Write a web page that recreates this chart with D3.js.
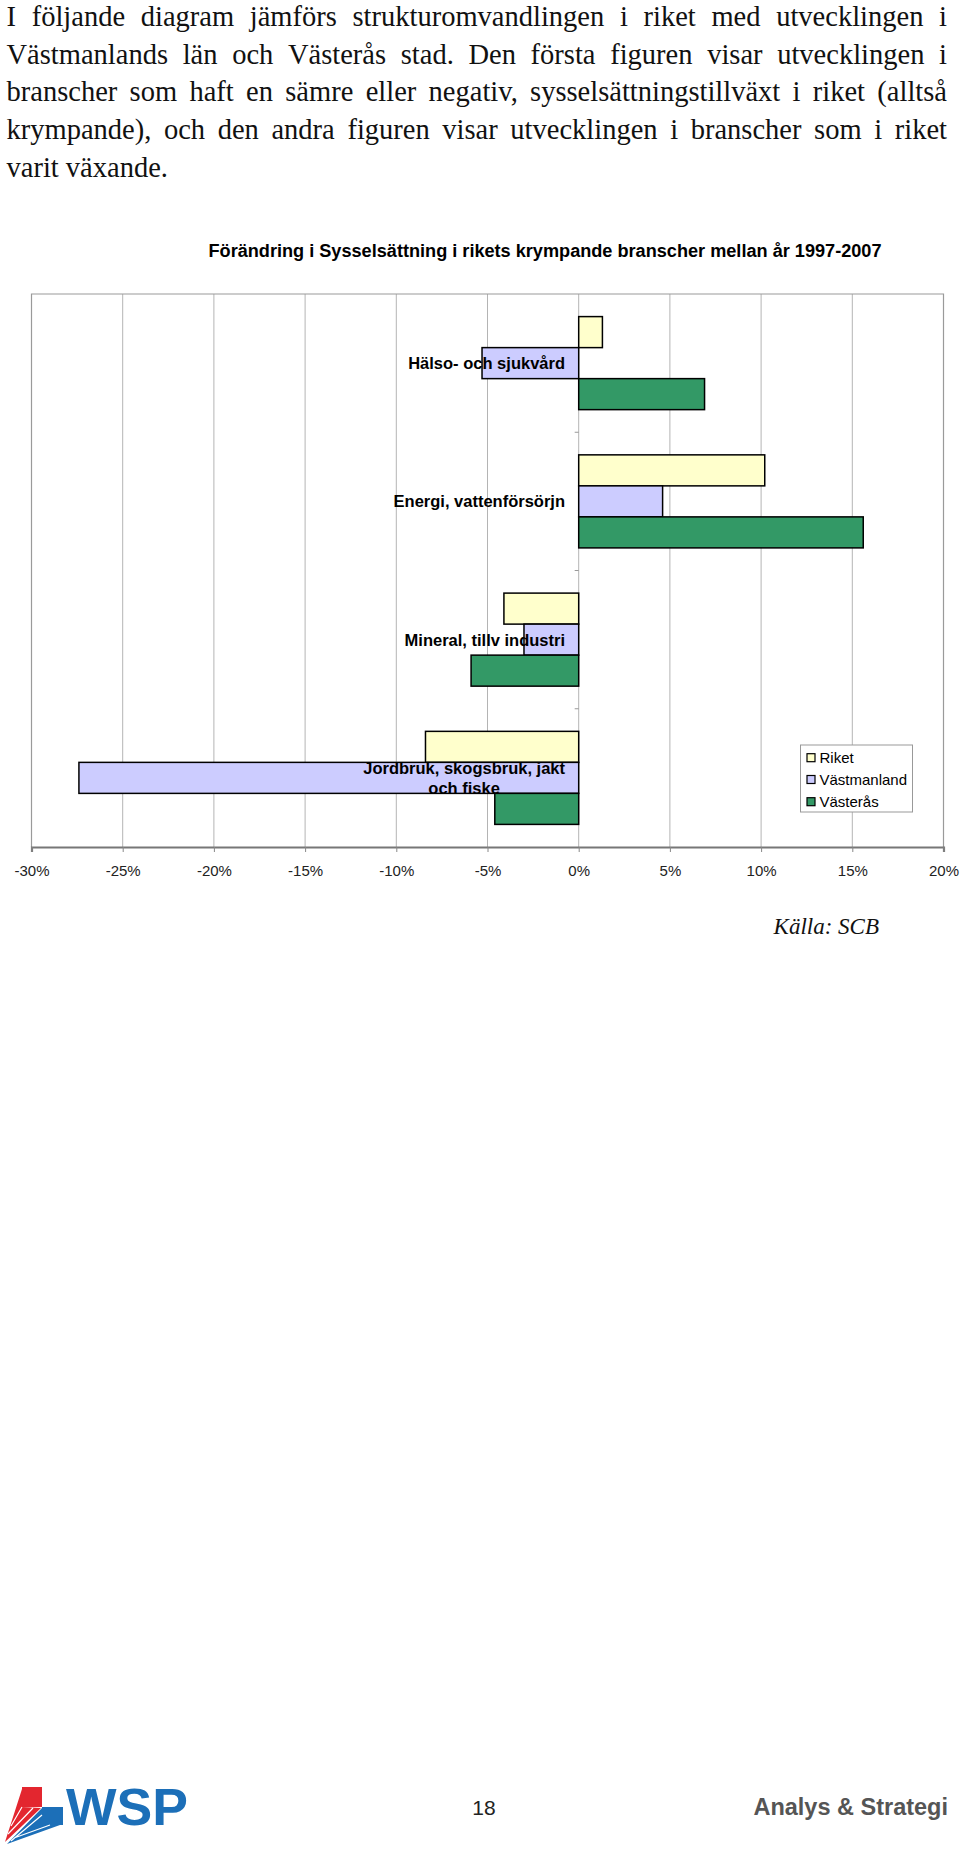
<!DOCTYPE html>
<html><head><meta charset="utf-8">
<script src="https://cdn.jsdelivr.net/npm/d3@7"></script>
<style>
html,body{margin:0;padding:0;background:#fff;}
svg{display:block;}
</style></head>
<body>
<svg id="page" width="960" height="1850"></svg>
<script>
// ---- data ----
const introLines = [
  "I följande diagram jämförs strukturomvandlingen i riket med utvecklingen i",
  "Västmanlands län och Västerås stad. Den första figuren visar utvecklingen i",
  "branscher som haft en sämre eller negativ, sysselsättningstillväxt i riket (alltså",
  "krympande), och den andra figuren visar utvecklingen i branscher som i riket",
  "varit växande."
];
const chartTitle = "Förändring i Sysselsättning i rikets krympande branscher mellan år 1997-2007";
const categories = ["Hälso- och sjukvård", "Energi, vattenförsörjn", "Mineral, tillv industri", "Jordbruk, skogsbruk, jakt och fiske"];
const categoryLines = [["Hälso- och sjukvård"], ["Energi, vattenförsörjn"], ["Mineral, tillv industri"], ["Jordbruk, skogsbruk, jakt", "och fiske"]];
const seriesNames = ["Riket", "Västmanland", "Västerås"];
const riket = [1.3, 10.2, -4.1, -8.4];
const vastmanland = [-5.3, 4.6, -3.0, -27.4];
const vasteras = [6.9, 15.6, -5.9, -4.6];
const tickValues = [-30, -25, -20, -15, -10, -5, 0, 5, 10, 15, 20];
const tickLabels = ["-30%", "-25%", "-20%", "-15%", "-10%", "-5%", "0%", "5%", "10%", "15%", "20%"];
const sourceText = "Källa: SCB";
const pageNumber = "18";
const footerRight = "Analys & Strategi";
const logoText = "WSP";

// ---- styles ----
const colors = ["#FFFFCC", "#CCCCFF", "#339966"];
const svg = d3.select("#page");

// ---- intro paragraph (justified, word by word) ----
const fs = 28.5;
const para = svg.append("g").attr("font-family", "'Liberation Serif','Times New Roman',serif")
  .attr("font-size", fs).attr("fill", "#111");
const pLeft = 6.5, pRight = 947, lineH = 37.7, firstBase = 26;
const targetW = pRight - pLeft;
const spaceW = fs * 0.25;
const ratios = [];
introLines.forEach((line, i) => {
  const words = line.split(" ");
  const yb = firstBase + i * lineH;
  const last = i === introLines.length - 1;
  const nodes = words.map(w => para.append("text").attr("y", yb).text(w));
  const widths = nodes.map(n => n.node().getComputedTextLength());
  const total = d3.sum(widths);
  let r, gap;
  if (!last) {
    r = Math.min(1, targetW / (total + spaceW * (words.length - 1)));
    ratios.push(r);
    gap = (targetW - total * r) / (words.length - 1);
  } else {
    r = ratios.length ? d3.mean(ratios) : 1;
    gap = spaceW * r;
  }
  let xx = pLeft;
  nodes.forEach((n, k) => {
    n.attr("x", xx);
    if (r < 1) n.attr("textLength", widths[k] * r).attr("lengthAdjust", "spacingAndGlyphs");
    xx += widths[k] * r + gap;
  });
});

// ---- chart ----
const plot = {left: 31.5, right: 943.5, top: 294, bottom: 847};
const x = d3.scaleLinear().domain([-30, 20]).range([plot.left, plot.right]);
const y = d3.scaleBand().domain(categories).range([plot.top, plot.bottom])
  .paddingInner(0.327).paddingOuter(0.1635);
const ys = d3.scaleBand().domain(seriesNames).range([0, y.bandwidth()]);

svg.append("text").attr("x", 545).attr("y", 257).attr("text-anchor", "middle")
  .attr("font-family", "'Liberation Sans',Arial,sans-serif").attr("font-weight", "bold")
  .attr("font-size", 17.5).attr("fill", "#000")
  .attr("textLength", 673).attr("lengthAdjust", "spacingAndGlyphs").text(chartTitle);

// gridlines
svg.append("g").selectAll("line").data(tickValues).join("line")
  .attr("x1", d => x(d)).attr("x2", d => x(d))
  .attr("y1", plot.top).attr("y2", plot.bottom)
  .attr("stroke", "#b4b4b4").attr("stroke-width", 1);

// frame (top, left, right)
svg.append("path")
  .attr("d", `M${plot.left},${plot.bottom}V${plot.top}H${plot.right}V${plot.bottom}`)
  .attr("fill", "none").attr("stroke", "#9a9a9a").attr("stroke-width", 1.2);

// category tick marks on zero line
const bounds = d3.range(categories.length + 1).map(i => plot.top + i * y.step());
svg.append("g").selectAll("line").data(bounds.slice(1, -1)).join("line")
  .attr("x1", x(0) - 4).attr("x2", x(0))
  .attr("y1", d => d).attr("y2", d => d)
  .attr("stroke", "#999").attr("stroke-width", 1);

// bars
const seriesData = [riket, vastmanland, vasteras];
seriesData.forEach((vals, si) => {
  svg.append("g").selectAll("rect").data(vals).join("rect")
    .attr("x", d => x(Math.min(0, d)))
    .attr("width", d => Math.abs(x(d) - x(0)))
    .attr("y", (d, i) => y(categories[i]) + ys(seriesNames[si]))
    .attr("height", ys.bandwidth())
    .attr("fill", colors[si]).attr("stroke", "#000").attr("stroke-width", 1.5);
});

// category labels
const labG = svg.append("g").attr("font-family", "'Liberation Sans',Arial,sans-serif")
  .attr("font-weight", "bold").attr("font-size", 16.5).attr("fill", "#000");
const labRight = 565;
categoryLines.forEach((lines, i) => {
  const cy = y(categories[i]) + ys(seriesNames[1]) + ys.bandwidth() / 2;
  if (lines.length === 1) {
    labG.append("text").attr("x", labRight).attr("y", cy).attr("dy", "0.36em")
      .attr("text-anchor", "end").text(lines[0]);
  } else {
    const t1 = labG.append("text").attr("x", labRight).attr("y", cy - 10).attr("dy", "0.36em")
      .attr("text-anchor", "end").text(lines[0]);
    const w1 = t1.node().getComputedTextLength();
    labG.append("text").attr("x", labRight - w1 / 2).attr("y", cy + 10).attr("dy", "0.36em")
      .attr("text-anchor", "middle").text(lines[1]);
  }
});

// x axis
const axis = svg.append("g").attr("transform", `translate(0,${plot.bottom})`)
  .call(d3.axisBottom(x).tickValues(tickValues).tickFormat((d, i) => tickLabels[i])
    .tickSize(5).tickPadding(13));
axis.select(".domain").attr("stroke", "#777").attr("stroke-width", 2.2);
axis.selectAll(".tick line").attr("stroke", "#888");
axis.selectAll(".tick text").attr("font-family", "'Liberation Sans',Arial,sans-serif")
  .attr("font-size", 15).attr("fill", "#222");

// legend
const leg = svg.append("g");
leg.append("rect").attr("x", 800.5).attr("y", 745).attr("width", 112).attr("height", 67)
  .attr("fill", "#fff").attr("stroke", "#999").attr("stroke-width", 1);
const legY = [757.7, 779.5, 801.7];
seriesNames.forEach((s, i) => {
  leg.append("rect").attr("x", 807).attr("y", legY[i] - 4).attr("width", 8).attr("height", 8)
    .attr("fill", colors[i]).attr("stroke", "#000").attr("stroke-width", 1.2);
  leg.append("text").attr("x", 819.5).attr("y", legY[i]).attr("dy", "0.36em")
    .attr("font-family", "'Liberation Sans',Arial,sans-serif").attr("font-size", 15)
    .attr("fill", "#000").text(s);
});

// source
svg.append("text").attr("x", 879).attr("y", 934).attr("text-anchor", "end")
  .attr("font-family", "'Liberation Serif','Times New Roman',serif").attr("font-style", "italic")
  .attr("font-size", 23).attr("fill", "#111").text(sourceText);

// ---- footer ----
const logo = svg.append("g");
logo.append("path").attr("d", "M22,1787H42V1807H22Z").attr("fill", "#e3262f");
logo.append("path").attr("d", "M22,1789L5,1842L41,1808L22,1807Z").attr("fill", "#e3262f");
logo.append("path").attr("d", "M11,1826L22,1807M8,1834L33,1808").attr("stroke", "#fff").attr("stroke-width", 1.2);
logo.append("path").attr("d", "M42,1807H63V1825H42Z").attr("fill", "#1c6fb8");
logo.append("path").attr("d", "M42,1808V1825H60L7,1844Z").attr("fill", "#1c6fb8");
logo.append("path").attr("d", "M14,1838L50,1825M11,1841L42,1815").attr("stroke", "#fff").attr("stroke-width", 1.2);
svg.append("text").attr("x", 66).attr("y", 1825).attr("font-family", "'Liberation Sans',Arial,sans-serif")
  .attr("font-weight", "bold").attr("font-size", 51).attr("fill", "#1c6fb8")
  .attr("textLength", 122).attr("lengthAdjust", "spacingAndGlyphs").text(logoText);
svg.append("text").attr("x", 484).attr("y", 1807).attr("dy", "0.36em").attr("text-anchor", "middle")
  .attr("font-family", "'Liberation Sans',Arial,sans-serif").attr("font-size", 21).attr("fill", "#222")
  .text(pageNumber);
svg.append("text").attr("x", 948).attr("y", 1807).attr("dy", "0.36em").attr("text-anchor", "end")
  .attr("font-family", "'Liberation Sans',Arial,sans-serif").attr("font-weight", "bold")
  .attr("font-size", 23.5).attr("fill", "#555").text(footerRight);
</script>
</body></html>
